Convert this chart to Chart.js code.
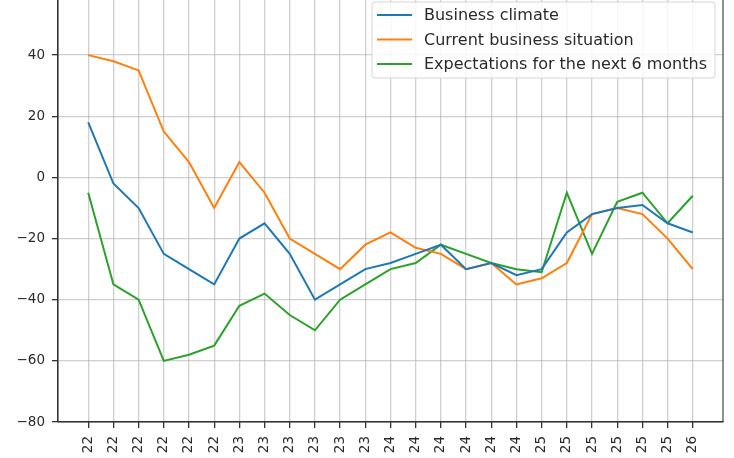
<!DOCTYPE html>
<html>
<head>
<meta charset="utf-8">
<script src="https://cdn.jsdelivr.net/npm/chart.js@4"></script>
<style>
  html, body { margin: 0; padding: 0; background: #fff; overflow: hidden; }
  #wrap { position: absolute; left: 0; top: -10px; width: 734px; height: 468px; }
</style>
</head>
<body>
<div id="wrap"><canvas id="myLineChart"></canvas></div>
<script>
// tick labels (year of each survey point)
const labels = ['22', '22', '22', '22', '22', '22',
                '23', '23', '23', '23', '23', '23',
                '24', '24', '24', '24', '24', '24',
                '25', '25', '25', '25', '25', '25',
                '26'];

const businessClimate = [18, -2, -10, -25, -30, -35, -20, -15, -25, -40, -35, -30, -28,
                         -25, -22, -30, -28, -32, -30, -18, -12, -10, -9, -15, -18];
const currentSituation = [40, 38, 35, 15, 5, -10, 5, -5, -20, -25, -30, -22, -18,
                          -23, -25, -30, -28, -35, -33, -28, -12, -10, -12, -20, -30];
const expectations = [-5, -35, -40, -60, -58, -55, -42, -38, -45, -50, -40, -35, -30,
                      -28, -22, -25, -28, -30, -31, -5, -25, -8, -5, -15, -6];

const seriesNames = ['Business climate', 'Current business situation', 'Expectations for the next 6 months'];
const seriesColors = ['#1f77b4', '#ff7f0e', '#2ca02c'];

const yTicks = [-80, -60, -40, -20, 0, 20, 40, 60];

const FONT = '"DejaVu Sans", "Liberation Sans", sans-serif';

const toPoints = arr => arr.map((v, i) => ({ x: i, y: v }));

// matplotlib style frame (all four spines)
const framePlugin = {
    id: 'frame',
    afterDatasetsDraw(chart) {
        const a = chart.chartArea;
        const c = chart.ctx;
        c.save();
        c.strokeStyle = '#333';
        c.lineWidth = 1.1;
        c.strokeRect(a.left, a.top, a.right - a.left, a.bottom - a.top);
        c.restore();
    }
};

// legend box in the upper right corner of the axes
const boxLegend = {
    id: 'boxLegend',
    afterDraw(chart) {
        const a = chart.chartArea;
        const c = chart.ctx;
        const sets = chart.data.datasets;
        c.save();
        c.font = '16px ' + FONT;
        let w = 0;
        sets.forEach(d => { w = Math.max(w, c.measureText(d.label).width); });
        const boxW = 5 + 35 + 12 + w + 8;
        const boxH = 76;
        const right = a.right - 8;
        const top = a.top + 8;
        const left = right - boxW;
        c.beginPath();
        c.roundRect(left, top, boxW, boxH, 3);
        c.fillStyle = 'rgba(255,255,255,0.85)';
        c.fill();
        c.strokeStyle = '#d6d6d6';
        c.lineWidth = 1;
        c.stroke();
        sets.forEach((d, i) => {
            const y = top + 13 + i * 24.5;
            c.strokeStyle = d.borderColor;
            c.lineWidth = 2;
            c.beginPath();
            c.moveTo(left + 5, y);
            c.lineTo(left + 40, y);
            c.stroke();
            c.fillStyle = '#2a2a2a';
            c.textBaseline = 'middle';
            c.textAlign = 'left';
            c.fillText(d.label, left + 52, y + 1);
        });
        c.restore();
    }
};

const ctx = document.getElementById('myLineChart').getContext('2d');
const myLineChart = new Chart(ctx, {
    type: 'line',
    data: {
        datasets: [
            { label: seriesNames[0], data: toPoints(businessClimate), borderColor: seriesColors[0] },
            { label: seriesNames[1], data: toPoints(currentSituation), borderColor: seriesColors[1] },
            { label: seriesNames[2], data: toPoints(expectations), borderColor: seriesColors[2] }
        ]
    },
    options: {
        responsive: true,
        maintainAspectRatio: false,
        animation: false,
        devicePixelRatio: 1,
        elements: {
            line: { borderWidth: 2, tension: 0, fill: false },
            point: { radius: 0, hoverRadius: 0 }
        },
        layout: { padding: { top: 4, right: 11, left: 0, bottom: 0 } },
        scales: {
            x: {
                type: 'linear',
                min: -1.2,   // matplotlib 5% margins
                max: labels.length - 1 + 1.2,
                afterBuildTicks: s => { s.ticks = labels.map((_, i) => ({ value: i })); },
                afterFit: s => { s.height = 36; s.paddingLeft = 0; s.paddingRight = 0; },
                ticks: {
                    autoSkip: false,
                    minRotation: 90,
                    maxRotation: 90,
                    padding: 8,
                    color: '#2a2a2a',
                    font: { family: FONT, size: 13.5 },
                    callback: v => labels[Math.round(v)]
                },
                grid: { color: 'rgba(176,176,176,0.6)', lineWidth: 1.3, tickColor: '#333', tickLength: 6 },
                border: { color: '#333', width: 1.1 }
            },
            y: {
                min: yTicks[0],
                max: yTicks[yTicks.length - 1],
                afterBuildTicks: s => { s.ticks = yTicks.map(v => ({ value: v })); },
                afterFit: s => { s.width = 58; s.paddingTop = 0; s.paddingBottom = 0; },
                ticks: {
                    padding: 7,
                    color: '#2a2a2a',
                    font: { family: FONT, size: 13.5 },
                    callback: v => (v < 0 ? '\u2212' + Math.abs(v) : String(v))
                },
                grid: { color: 'rgba(176,176,176,0.6)', lineWidth: 1.3, tickColor: '#333', tickLength: 6 },
                border: { color: '#333', width: 1.1 }
            }
        },
        plugins: {
            legend: { display: false },
            tooltip: { enabled: false }
        }
    },
    plugins: [framePlugin, boxLegend]
});
</script>
</body>
</html>
